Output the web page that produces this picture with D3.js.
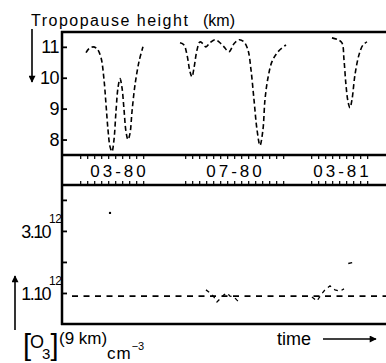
<!DOCTYPE html>
<html><head><meta charset="utf-8">
<script src="https://cdn.jsdelivr.net/npm/d3@7"></script>
<style>html,body{margin:0;padding:0;background:#fff}svg{display:block}</style>
</head><body>
<script>
// ---- data (x in days along the broken time axis) ----
const heightTicks = [8, 9, 10, 11];
const o3Ticks = [1, 2, 3, 4];
const o3Labels = [{v: 3, t: "3.10"}, {v: 1, t: "1.10"}];
const periodLabels = ["03-80", "07-80", "03-81"];
const periodCenters = [5.4, 21.97, 37.26];
const periodDayRanges = [[0, 9], [15, 29], [33, 41]];

const trop1Day = [0.83,1.26,1.83,2.4,2.97,3.4,3.69,3.97,4.26,4.54,4.83,5.11,5.4,5.69,5.97,6.26,6.54,6.83,7.11,7.4,7.83,8.4,8.97];
const trop1H   = [10.81,10.94,11.0,10.94,10.65,9.94,9.13,8.32,7.77,7.61,8.0,8.9,9.68,9.97,9.68,8.97,8.26,8.0,8.19,8.9,9.77,10.52,11.0];
const trop2Day = [14.26,14.83,15.26,15.69,15.97,16.26,16.69,17.11,17.54,17.97,18.54,19.26,19.83,20.54,21.26,21.97,22.69,23.4,23.97,24.4,24.83,25.26,25.69,26.11,26.4,26.83,27.4,28.26,29.4];
const trop2H   = [11.13,11.06,10.74,10.19,10.03,10.32,10.9,11.16,11.1,11.0,11.13,11.23,11.16,11.0,10.84,11.1,11.23,11.16,10.9,10.26,9.29,8.32,7.81,8.32,9.29,10.0,10.52,10.84,11.06];
const trop3Day = [35.97,36.83,37.4,37.69,37.97,38.26,38.54,38.83,39.26,39.83,40.4,40.97];
const trop3H   = [11.29,11.23,11.13,10.58,9.77,9.23,9.03,9.29,10.1,10.74,11.06,11.16];

const o3BaseValue = 0.9;
const o3BaseStartDay = -1.17;
const o3aDay = [17.97,18.54,19.11,19.54,19.97,20.54,20.97,21.4,21.97,22.4,22.83];
const o3aVal = [1.10,1.0,0.87,0.71,0.81,0.94,1.0,0.90,0.87,0.77,0.68];
const o3bDay = [33.11,33.83,34.4,34.97,35.69,36.4,37.11,37.69];
const o3bVal = [0.87,0.74,0.94,1.10,1.23,1.10,1.06,1.13];
const o3cDay = [38.3, 39.0];
const o3cVal = [1.95, 1.99];
const o3PointDay = [4.26];
const o3PointVal = [3.58];

// ---- drawing ----
const W = 386, H = 363;
const svg = d3.select("body").append("svg").attr("width", W).attr("height", H);
const FONT = "'Liberation Sans', Arial, Helvetica, sans-serif";

const x = d3.scaleLinear().domain([-2.6, 43.69]).range([62, 386]);
const yT = d3.scaleLinear().domain([7.5, 11.48]).range([155, 32]);
const yO = d3.scaleLinear().domain([0, 4.48]).range([324, 185]);

const defs = svg.append("defs");
defs.append("marker").attr("id", "ah").attr("viewBox", "0 0 10 10").attr("refX", 9).attr("refY", 5)
  .attr("markerWidth", 9).attr("markerHeight", 7).attr("markerUnits", "userSpaceOnUse").attr("orient", "auto")
  .append("path").attr("d", "M0,0L10,5L0,10Z").attr("fill", "#000");

// frame lines
const frame = svg.append("g").attr("stroke", "#000").attr("stroke-width", 2.5).attr("fill", "none");
frame.append("line").attr("x1", 62).attr("x2", 62).attr("y1", 31).attr("y2", 325);
[yT.range()[1], yT.range()[0], yO.range()[1], yO.range()[0]].forEach(yy =>
  frame.append("line").attr("x1", 61).attr("x2", W).attr("y1", yy).attr("y2", yy));

// left axes ticks (inward)
const axT = d3.axisRight(yT).tickValues(heightTicks).tickSize(5).tickFormat("");
const gT = svg.append("g").attr("transform", "translate(62,0)").call(axT);
gT.select(".domain").remove();
gT.selectAll("line").attr("stroke-width", 1.8);
svg.append("g").selectAll("text").data(heightTicks).join("text")
  .attr("x", 59).attr("y", d => yT(d)).attr("dy", "0.36em").attr("text-anchor", "end")
  .attr("font-family", FONT).attr("font-size", 18).attr("letter-spacing", -0.5).text(d => d);

const axO = d3.axisRight(yO).tickValues(o3Ticks).tickSize(5).tickFormat("");
const gO = svg.append("g").attr("transform", "translate(62,0)").call(axO);
gO.select(".domain").remove();
gO.selectAll("line").attr("stroke-width", 1.8);
const ol = svg.append("g").attr("font-family", FONT);
o3Labels.forEach(l => {
  ol.append("text").attr("x", 50).attr("y", yO(l.v) + 7).attr("text-anchor", "end")
    .attr("font-size", 18).attr("letter-spacing", -1.6).text(l.t);
  ol.append("text").attr("x", 49).attr("y", yO(l.v) - 8).attr("font-size", 12).attr("letter-spacing", -0.5).text("12");
});

// time band ticks
const bandTicks = periodDayRanges.flatMap(r => d3.range(r[0], r[1] + 1));
const axTop = d3.axisBottom(x).tickValues(bandTicks).tickSize(4).tickFormat("");
const gbt = svg.append("g").attr("transform", `translate(0,${yT.range()[0]})`).call(axTop);
gbt.select(".domain").remove(); gbt.selectAll("line").attr("stroke-width", 1.2);
const axBot = d3.axisTop(x).tickValues(bandTicks).tickSize(4).tickFormat("");
const gbb = svg.append("g").attr("transform", `translate(0,${yO.range()[1]})`).call(axBot);
gbb.select(".domain").remove(); gbb.selectAll("line").attr("stroke-width", 1.2);

svg.append("g").selectAll("text").data(periodLabels).join("text")
  .attr("x", (d, i) => x(periodCenters[i]) + 1.5).attr("y", 177).attr("text-anchor", "middle")
  .attr("font-family", FONT).attr("font-size", 17).attr("letter-spacing", 3).text(d => d);

// tropopause curves
const lineT = d3.line().x(d => x(d[0])).y(d => yT(d[1])).curve(d3.curveCatmullRom.alpha(0.5));
[[trop1Day, trop1H], [trop2Day, trop2H], [trop3Day, trop3H]].forEach(([ds, hs]) => {
  svg.append("path").datum(ds.map((d, i) => [d, hs[i]])).attr("d", lineT)
    .attr("fill", "none").attr("stroke", "#000").attr("stroke-width", 1.6).attr("stroke-dasharray", "5,3");
});

// ozone
svg.append("line").attr("x1", x(o3BaseStartDay)).attr("x2", W).attr("y1", yO(o3BaseValue)).attr("y2", yO(o3BaseValue))
  .attr("stroke", "#000").attr("stroke-width", 1.6).attr("stroke-dasharray", "6,5.5");
const lineO = d3.line().x(d => x(d[0])).y(d => yO(d[1]));
[[o3aDay, o3aVal], [o3bDay, o3bVal], [o3cDay, o3cVal]].forEach(([ds, vs]) => {
  svg.append("path").datum(ds.map((d, i) => [d, vs[i]])).attr("d", lineO)
    .attr("fill", "none").attr("stroke", "#000").attr("stroke-width", 1.3).attr("stroke-dasharray", "4,4");
});
svg.append("g").selectAll("circle").data(o3PointDay).join("circle")
  .attr("cx", d => x(d)).attr("cy", (d, i) => yO(o3PointVal[i])).attr("r", 1.2).attr("fill", "#000");

// titles / labels
const tg = svg.append("g").attr("font-family", FONT).attr("fill", "#000");
tg.append("text").attr("x", 31).attr("y", 26).attr("font-size", 16).attr("letter-spacing", 1.5).text("Tropopause height");
tg.append("text").attr("x", 203).attr("y", 26).attr("font-size", 16).text("(km)");
svg.append("line").attr("x1", 32).attr("x2", 32).attr("y1", 29).attr("y2", 82)
  .attr("stroke", "#000").attr("stroke-width", 1.6).attr("marker-end", "url(#ah)");
svg.append("line").attr("x1", 15).attr("x2", 15).attr("y1", 330).attr("y2", 276)
  .attr("stroke", "#000").attr("stroke-width", 1.6).attr("marker-end", "url(#ah)");

const o3t = tg.append("text").attr("x", 23).attr("y", 355);
o3t.append("tspan").attr("font-size", 29).text("[");
o3t.append("tspan").attr("font-size", 18).attr("dx", -1).attr("dy", -7).text("O");
o3t.append("tspan").attr("font-size", 15).attr("dx", -2).attr("dy", 11).text("3");
o3t.append("tspan").attr("font-size", 29).attr("dy", -4).text("]");
tg.append("text").attr("x", 59).attr("y", 344).attr("font-size", 17).text("(9 km)");
const cmt = tg.append("text").attr("x", 107).attr("y", 359).attr("font-size", 17);
cmt.append("tspan").attr("letter-spacing", 1).text("cm");
cmt.append("tspan").attr("font-size", 11).attr("dy", -9).text("−3");

tg.append("text").attr("x", 277).attr("y", 345).attr("font-size", 18).text("time");
svg.append("line").attr("x1", 323).attr("x2", 376).attr("y1", 339).attr("y2", 339)
  .attr("stroke", "#000").attr("stroke-width", 1.6).attr("marker-end", "url(#ah)");
</script>
</body></html>
